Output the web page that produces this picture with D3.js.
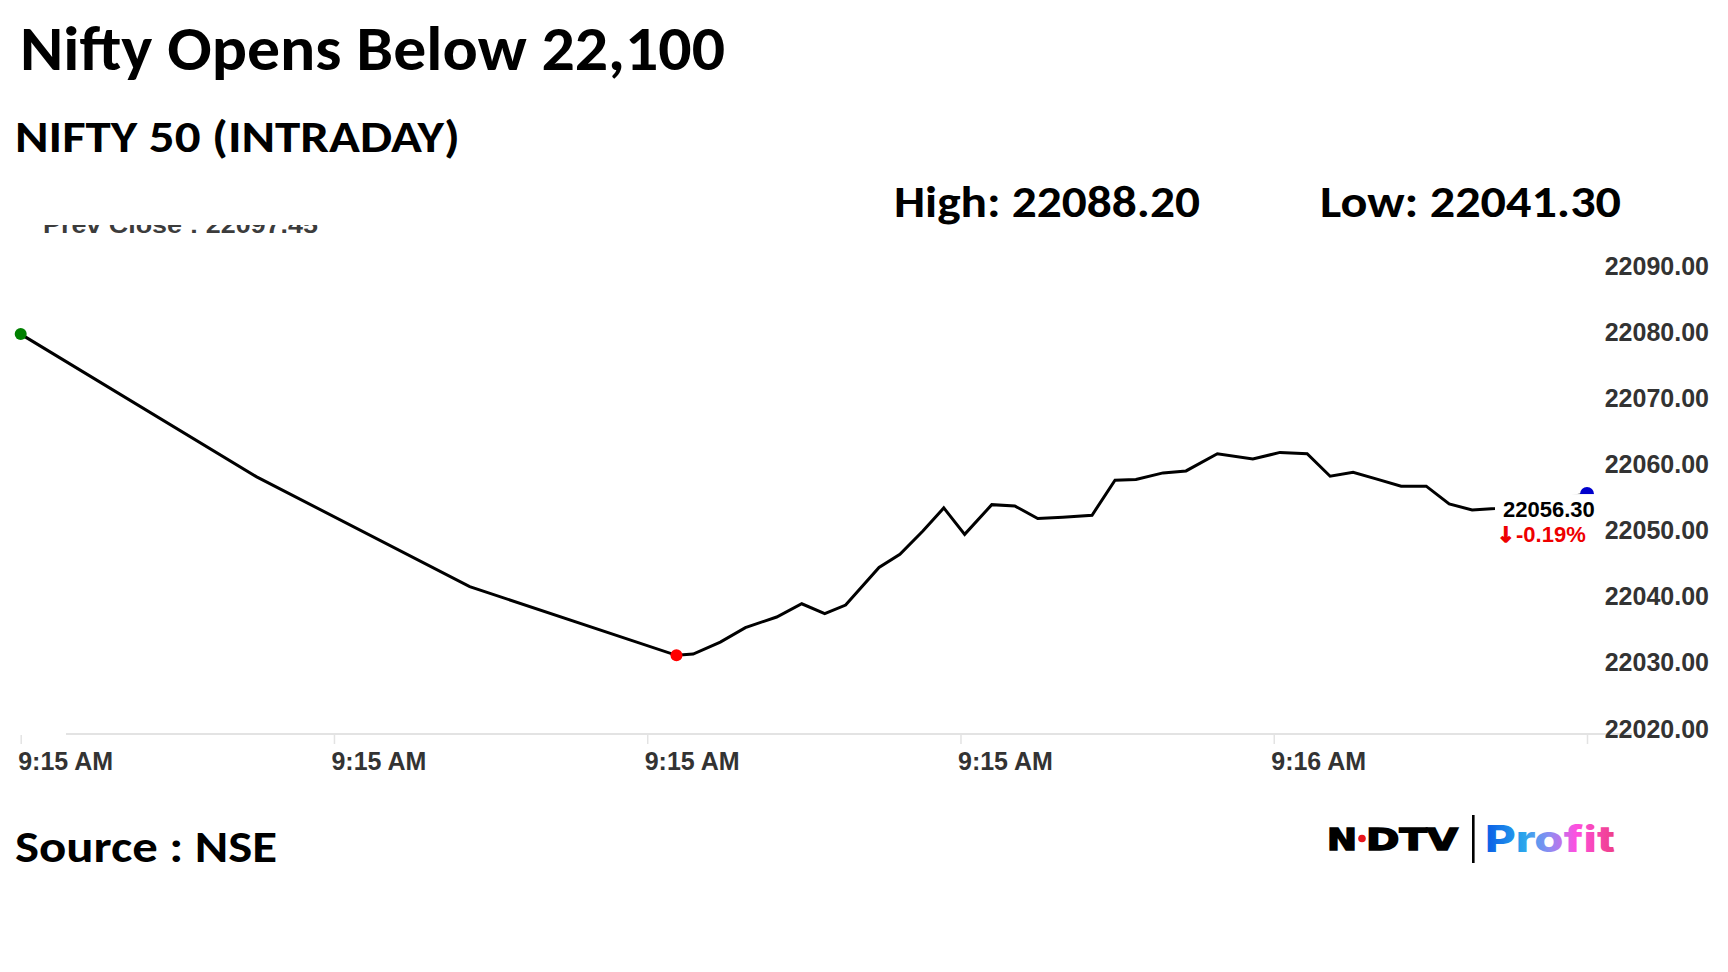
<!DOCTYPE html>
<html>
<head>
<meta charset="utf-8">
<script src="https://cdn.jsdelivr.net/npm/d3@7"></script>
<style>
  body { margin: 0; background: #ffffff; }
  svg { display: block; }
</style>
</head>
<body>
<div id="chart"></div>
<script>
// chart data (seconds after 9:15:00, index value)
const seconds = [0, 11.3, 21.5, 31.4, 32.2, 33.5, 34.7, 36.2, 37.4, 38.5, 39.5, 41.1, 42.1, 43.2, 44.2, 45.2,
  46.5, 47.6, 48.7, 49.9, 51.3, 52.4, 53.4, 54.7, 55.8, 57.3, 59.0, 60.3, 61.6, 62.7, 63.8, 64.9, 66.1,
  67.3, 68.4, 69.5, 70.6, 75];
const values = [22080.5, 22058.9, 22042.3, 22031.9, 22032.1, 22033.9, 22036.1, 22037.7, 22039.7, 22038.2,
  22039.5, 22045.2, 22047.2, 22050.7, 22054.2, 22050.2, 22054.7, 22054.5, 22052.6, 22052.8, 22053.1,
  22058.4, 22058.5, 22059.5, 22059.8, 22062.4, 22061.6, 22062.6, 22062.4, 22059.0, 22059.6, 22058.6,
  22057.5, 22057.5, 22054.8, 22053.9, 22054.1, 22056.3];
const prevClose = 22097.45;
const dayHigh = "22088.20", dayLow = "22041.30";
const yTicks = [22020, 22030, 22040, 22050, 22060, 22070, 22080, 22090];
const xTickSeconds = [0, 15, 30, 45, 60, 75];

const width = 1728, height = 972;
const start = new Date(2024, 0, 1, 9, 15, 0);
const toDate = s => new Date(start.getTime() + s * 1000);
const data = seconds.map((s, i) => ({ t: toDate(s), v: values[i] }));
const fmt2 = v => d3.format(".2f")(v).replace("\u2212", "-");

const svg = d3.select("#chart").append("svg")
  .attr("width", width)
  .attr("height", height)
  .style("font-family", "'Liberation Sans', Arial, sans-serif");

svg.append("rect").attr("width", width).attr("height", height).attr("fill", "#fff");

// scales
const x = d3.scaleTime()
  .domain([toDate(0), toDate(75)])
  .range([20.7, 1587]);
const y = d3.scaleLinear()
  .domain([22020, 22090])
  .range([734, 271.3]);

// headings
const head = "'Carlito', 'Open Sans', sans-serif";
function heading(txt, xx, yy, size, len) {
  svg.append("text")
    .attr("x", xx).attr("y", yy)
    .attr("font-family", head)
    .attr("font-weight", 700)
    .attr("font-size", size)
    .attr("textLength", len)
    .attr("lengthAdjust", "spacingAndGlyphs")
    .attr("fill", "#000")
    .text(txt);
}
heading("Nifty Opens Below 22,100", 20, 70, 62, 705);
heading("NIFTY 50 (INTRADAY)", 15, 152, 45, 445);
heading("High: " + dayHigh, 894, 217, 45, 306);
heading("Low: " + dayLow, 1320, 217, 45, 301);
heading("Source : NSE", 15, 862, 45, 262);

// prev close label, cut at the top like the original
svg.append("clipPath").attr("id", "pcClip")
  .append("rect").attr("x", 0).attr("y", 225).attr("width", 400).attr("height", 30);
svg.append("text")
  .attr("clip-path", "url(#pcClip)")
  .attr("x", 43).attr("y", 233)
  .attr("font-size", 24).attr("font-weight", 700)
  .attr("textLength", 275).attr("lengthAdjust", "spacingAndGlyphs")
  .attr("fill", "#3c3c3c")
  .text("Prev Close : " + fmt2(prevClose));

// x axis
svg.append("line")
  .attr("x1", 66).attr("x2", 1632)
  .attr("y1", 734).attr("y2", 734)
  .attr("stroke", "#e3e3e3").attr("stroke-width", 2);

const xAxis = d3.axisBottom(x)
  .tickValues(xTickSeconds.map(toDate))
  .tickSize(9)
  .tickFormat((d, i) => i === xTickSeconds.length - 1 ? "" : d3.timeFormat("%-I:%M %p")(d));

svg.append("g")
  .attr("transform", "translate(0,735)")
  .call(xAxis)
  .call(g => g.select(".domain").remove())
  .call(g => g.selectAll(".tick line").attr("stroke", "#e3e3e3").attr("stroke-width", 1.5))
  .call(g => g.selectAll(".tick text")
    .attr("text-anchor", "start")
    .attr("x", -3).attr("y", 35).attr("dy", 0)
    .attr("font-family", "'Liberation Sans', Arial, sans-serif")
    .attr("font-size", 25).attr("font-weight", 700)
    .attr("fill", "#333"));

// y axis (labels only, on the right)
const yAxis = d3.axisRight(y)
  .tickValues(yTicks)
  .tickSize(0)
  .tickFormat(fmt2);

svg.append("g")
  .attr("transform", "translate(1709,0)")
  .call(yAxis)
  .call(g => g.select(".domain").remove())
  .call(g => g.selectAll(".tick text")
    .attr("text-anchor", "end")
    .attr("x", 0).attr("y", 3).attr("dy", 0)
    .attr("font-family", "'Liberation Sans', Arial, sans-serif")
    .attr("font-size", 25).attr("font-weight", 700)
    .attr("fill", "#333"));

// price line
const line = d3.line().x(d => x(d.t)).y(d => y(d.v));
svg.append("path")
  .datum(data)
  .attr("d", line)
  .attr("fill", "none")
  .attr("stroke", "#000")
  .attr("stroke-width", 3)
  .attr("stroke-linejoin", "miter");

// markers: open, low, last
const first = data[0];
const last = data[data.length - 1];
const low = data.reduce((a, b) => (b.v < a.v ? b : a));

svg.append("circle").attr("cx", x(first.t)).attr("cy", y(first.v)).attr("r", 6).attr("fill", "#008000");
svg.append("circle").attr("cx", x(low.t)).attr("cy", y(low.v)).attr("r", 6).attr("fill", "#ff0000");
svg.append("circle").attr("cx", x(last.t)).attr("cy", y(last.v)).attr("r", 7).attr("fill", "#0000cc");

// last value label with white box
const lx = x(last.t), ly = y(last.v);
svg.append("rect")
  .attr("x", lx - 92).attr("y", ly).attr("width", 104).attr("height", 54)
  .attr("fill", "#fff");
svg.append("text")
  .attr("x", lx - 84).attr("y", ly + 23)
  .attr("font-size", 22).attr("font-weight", 700).attr("fill", "#000")
  .text(fmt2(last.v));
const chg = (last.v - prevClose) / prevClose * 100;
svg.append("text")
  .attr("x", lx - 90).attr("y", ly + 48)
  .attr("font-family", "'DejaVu Sans', sans-serif")
  .attr("font-size", 21).attr("font-weight", 700)
  .attr("fill", "#ee0000").attr("stroke", "#ee0000").attr("stroke-width", 1.3)
  .text(chg < 0 ? "\u2193" : "\u2191");
svg.append("text")
  .attr("x", lx - 71).attr("y", ly + 48)
  .attr("font-size", 22).attr("font-weight", 700).attr("fill", "#ee0000")
  .text(fmt2(chg) + "%");

// NDTV | Profit logo
const logo = svg.append("g");
logo.append("text")
  .attr("x", 1327).attr("y", 850)
  .attr("font-family", "'DejaVu Sans', sans-serif").attr("font-weight", 700)
  .attr("font-size", 31).attr("textLength", 30).attr("lengthAdjust", "spacingAndGlyphs")
  .attr("stroke", "#000").attr("stroke-width", 1.6)
  .text("N");
logo.append("text")
  .attr("x", 1366).attr("y", 850)
  .attr("font-family", "'DejaVu Sans', sans-serif").attr("font-weight", 700)
  .attr("font-size", 31).attr("textLength", 92).attr("lengthAdjust", "spacingAndGlyphs")
  .attr("stroke", "#000").attr("stroke-width", 1.6)
  .text("DTV");
logo.append("circle").attr("cx", 1362).attr("cy", 838.5).attr("r", 3.8).attr("fill", "#e8141c");
logo.append("rect").attr("x", 1472).attr("y", 815).attr("width", 2.6).attr("height", 48).attr("fill", "#000");

const grad = svg.append("defs").append("linearGradient")
  .attr("id", "profitGrad")
  .attr("gradientUnits", "userSpaceOnUse")
  .attr("x1", 1485).attr("x2", 1615).attr("y1", 0).attr("y2", 0);
[["0", "#0a5ce6"], ["0.3", "#2aa6ec"], ["0.5", "#8f8cf2"], ["0.7", "#ff4fe0"], ["1", "#ee3f86"]]
  .forEach(s => grad.append("stop").attr("offset", s[0]).attr("stop-color", s[1]));
logo.append("text")
  .attr("x", 1485).attr("y", 852)
  .attr("font-family", "Inter, 'Open Sans', sans-serif").attr("font-weight", 800)
  .attr("font-size", 37).attr("textLength", 130).attr("lengthAdjust", "spacingAndGlyphs")
  .attr("fill", "url(#profitGrad)")
  .text("Profit");
</script>
</body>
</html>
